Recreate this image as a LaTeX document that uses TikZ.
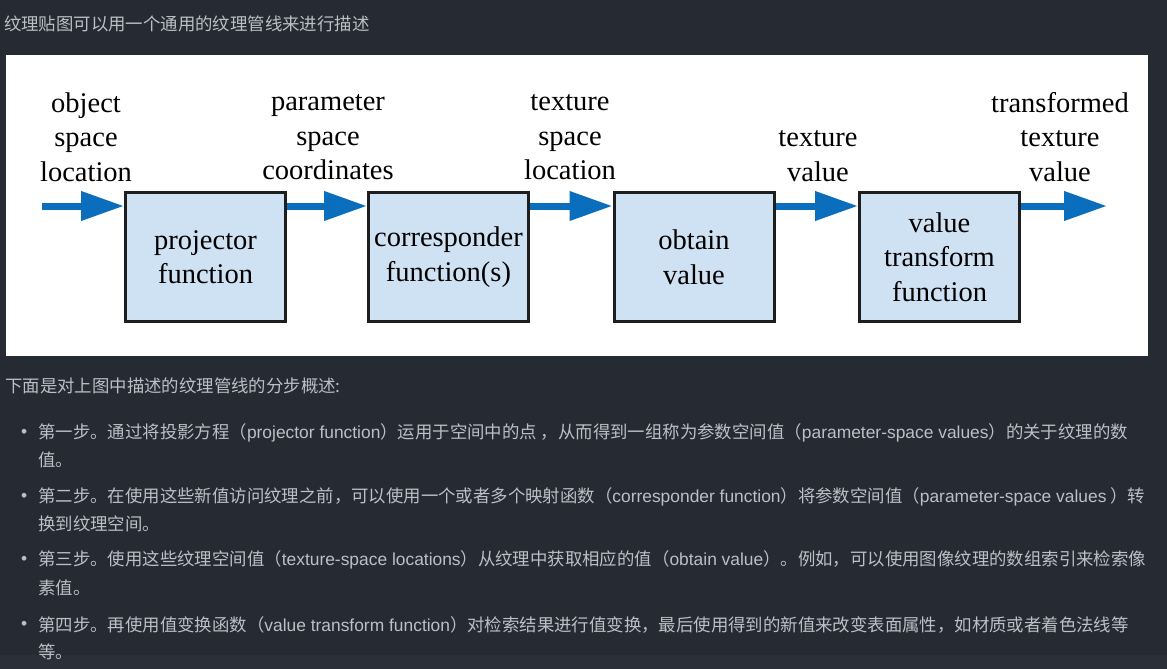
\documentclass[tikz,border=0pt]{standalone}
\usepackage{fontspec}
\setmainfont{Liberation Serif}
\newfontfamily\cjkfont{Noto Sans CJK SC}
\newfontfamily\latfont{Liberation Sans}
\usetikzlibrary{arrows.meta}
\definecolor{pagebg}{HTML}{262A33}
\definecolor{bandbg}{HTML}{2B2F38}
\definecolor{bodytext}{HTML}{BCBFC5}
\definecolor{boxfill}{HTML}{CFE2F3}
\definecolor{boxline}{HTML}{1E1E1E}
\definecolor{flowblue}{HTML}{0A6EBD}
\newcommand\labelfont{\fontsize{28.5}{34.5}\selectfont}
\newcommand\bodyfont{\cjkfont\fontsize{17.4}{20}\selectfont}
\newcommand\enword[1]{{\latfont #1}}
\begin{document}
\begin{tikzpicture}[x=1pt,y=-1pt,
  stage/.style={draw=boxline,line width=3pt,fill=boxfill,minimum width=160pt,
    minimum height=129pt,inner sep=0pt,align=center,font=\labelfont},
  tag/.style={align=center,font=\labelfont},
  flow/.style={draw=flowblue,line width=7pt,-{Triangle[length=43pt,width=28pt]}},
  para/.style={anchor=west,inner sep=0pt,text=bodytext,font=\bodyfont}]

  % page and panel
  \useasboundingbox (0,0) rectangle (1167,669);
  \fill[pagebg] (0,0) rectangle (1167,669);
  \fill[bandbg] (0,655) rectangle (1167,669);
  \fill[white] (6,55) rectangle (1148,356);

  \node[para] (title) at (4,24) {纹理贴图可以用一个通用的纹理管线来进行描述};

  % pipeline stages
  \node[stage] (proj) at (205.5,257) {projector\\function};
  \node[stage] (corr) at (448.5,257) {corresponder\\function(s)};
  \node[stage] (obtain) at (694,257) {obtain\\value};
  \node[stage] (xform) at (939.5,257) {value\\transform\\function};

  \node[tag] (objloc) at (86,137) {object\\space\\location};
  \node[tag] (parcoord) at (328,137.5) {parameter\\space\\coordinates};
  \node[tag] (texloc) at (570,137.5) {texture\\space\\location};
  \node[tag] (texval) at (818,156) {texture\\value};
  \node[tag] (outval) at (1060,137) {transformed\\texture\\value};

  \coordinate (in) at (42,206);
  \coordinate (out) at (1107,206);
  \draw[flow] (in) -- (in -| proj.west);
  \draw[flow] (in -| proj.east) -- (in -| corr.west);
  \draw[flow] (in -| corr.east) -- (in -| obtain.west);
  \draw[flow] (in -| obtain.east) -- (in -| xform.west);
  \draw[flow] (in -| xform.east) -- (out);

  % steps
  \node[para] (head) at (5,386) {下面是对上图中描述的纹理管线的分步概述:};
  \foreach \y/\n in {433/a,497/b,560/c,625/d}
    \node[para] (dot\n) at (21,\y) {\latfont •};
  \node[para] (s1a) at (38,433) {第一步。通过将投影方程（\enword{projector function}）运用于空间中的点 ，从而得到一组称为参数空间值（\enword{parameter-space values}）的关于纹理的数};
  \node[para] (s1b) at (38,460) {值。};
  \node[para] (s2a) at (38,497) {第二步。在使用这些新值访问纹理之前，可以使用一个或者多个映射函数（\enword{corresponder function}）将参数空间值（\enword{parameter-space values} ）转};
  \node[para] (s2b) at (38,524) {换到纹理空间。};
  \node[para] (s3a) at (38,560) {第三步。使用这些纹理空间值（\enword{texture-space locations}）从纹理中获取相应的值（\enword{obtain value}）。例如，可以使用图像纹理的数组索引来检索像};
  \node[para] (s3b) at (38,588) {素值。};
  \node[para] (s4a) at (38,625) {第四步。再使用值变换函数（\enword{value transform function}）对检索结果进行值变换，最后使用得到的新值来改变表面属性，如材质或者着色法线等};
  \node[para] (s4b) at (38,652) {等。};

\end{tikzpicture}
\end{document}
